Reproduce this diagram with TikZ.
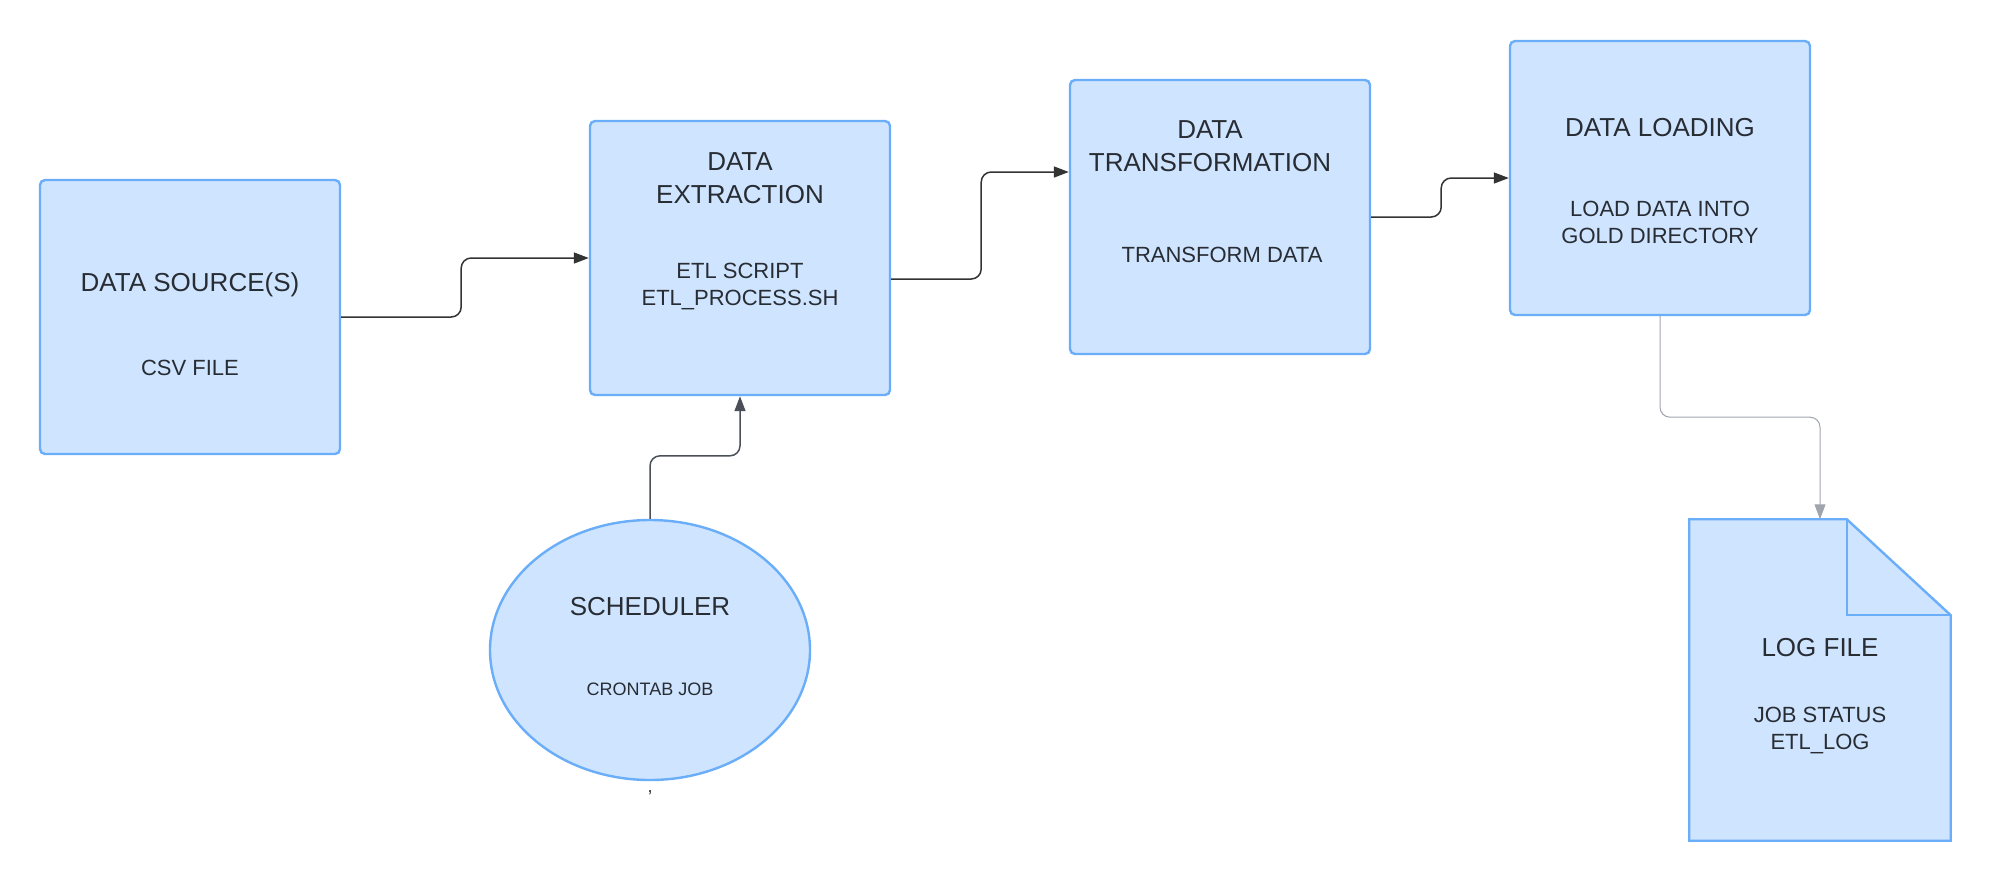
\documentclass[tikz,border=0pt]{standalone}
\usepackage{fontspec}
\setmainfont{Liberation Sans}
\usetikzlibrary{arrows.meta,shapes.geometric,calc}
\definecolor{boxfill}{HTML}{CFE4FF}
\definecolor{boxline}{HTML}{6AAEF9}
\definecolor{ink}{HTML}{282C33}
\definecolor{linkdark}{HTML}{333333}
\definecolor{linkmid}{HTML}{4B5058}
\definecolor{linklight}{HTML}{A0A5AD}
\begin{document}
\begin{tikzpicture}[x=0.5pt, y=-0.5pt, ->, >={Triangle[length=7.5pt, width=5.5pt]}, line width=0.75pt]
                \tikzstyle{block}=[rectangle, draw=boxline, fill=boxfill, line width=1.2pt, rounded corners=2.5pt, minimum width=150pt, minimum height=137pt, inner sep=0pt]
                \tikzstyle{title}=[text=ink, font=\fontsize{13}{16.5}\selectfont, align=center]
                \tikzstyle{sub}=[text=ink, font=\fontsize{11}{13.5}\selectfont, align=center]
                \tikzstyle{small}=[text=ink, font=\fontsize{9}{11}\selectfont, align=center]
                \tikzstyle{link}=[draw=linkdark, rounded corners=5pt]
                
                \path[fill=white, use as bounding box] (0,0) rectangle (1990,880);
                
                \node[block] (src) at (190,317) {};
                \node[block] (ext) at (740,258) {};
                \node[block] (trf) at (1220,217) {};
                \node[block] (load) at (1660,178) {};
                \node[ellipse, draw=boxline, fill=boxfill, line width=1.2pt, minimum width=160pt, minimum height=130pt] (sched) at (650,650) {};
                \node[rectangle, minimum width=130pt, minimum height=160pt] (log) at (1820,680) {};
                
                % log file with folded corner
                \draw[-, draw=boxline, fill=boxfill, line width=1.2pt] (log.north west) -- ($(log.north east)+(-104,0)$) -- ($(log.north east)+(0,96)$) -- (log.south east) -- (log.south west) -- cycle;
                \draw[-, draw=boxline, line width=1.2pt] ($(log.north east)+(-104,0)$) |- ($(log.north east)+(0,96)$);
                
                \node[title] (srct) at (190,285) {DATA SOURCE(S)};
                \node[sub] (srcs) at (190,368) {CSV FILE};
                \node[title] (extt) at (740,178) {DATA\\EXTRACTION};
                \node[sub] (exts) at (740,286) {ETL SCRIPT\\ETL\_PROCESS.SH};
                \node[title] (trft) at (1210,146) {DATA\\TRANSFORMATION};
                \node[sub] (trfs) at (1222,255) {TRANSFORM DATA};
                \node[title] (loadt) at (1660,128) {DATA LOADING};
                \node[sub] (loads) at (1660,222) {LOAD DATA INTO\\GOLD DIRECTORY};
                \node[title] (schedt) at (650,607) {SCHEDULER};
                \node[small] (scheds) at (650,689) {CRONTAB JOB};
                \node[title] (logt) at (1820,648) {LOG FILE};
                \node[sub] (logs) at (1820,730) {JOB STATUS\\ETL\_LOG};
                \node[small] (mark) at (650,793) {,};
                
                \draw[link] (src.east) -- ++(120,0) |- (ext.west);
                \draw[link] ($(ext.east)+(0,21)$) -- ++(90,0) |- ($(trf.west)+(0,-45)$);
                \draw[link] (trf.east) -- ++(70,0) |- (load.west);
                \draw[link, draw=linkmid] (sched.north) -- ++(0,-63) -| (ext.south);
                \draw[link, draw=linklight, line width=0.5pt] (load.south) -- ++(0,101) -| (log.north);
            \end{tikzpicture}
\end{document}
